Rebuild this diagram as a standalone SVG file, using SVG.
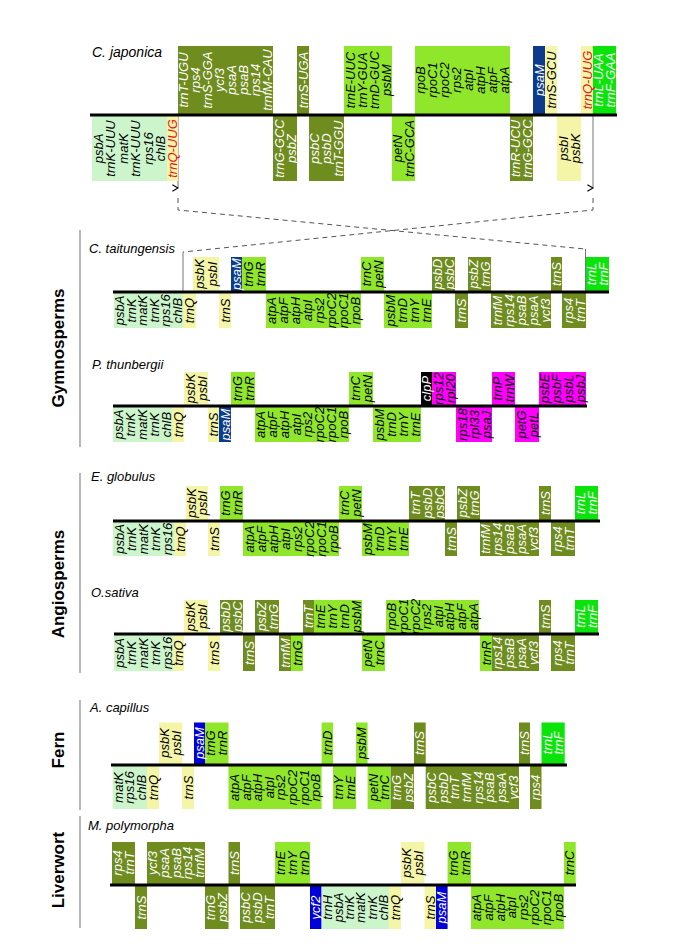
<svg xmlns="http://www.w3.org/2000/svg" width="685" height="946" viewBox="0 0 685 946">
<style>
.ol{fill:#6f8c1f}.li{fill:#8fe62b}.bg{fill:#0be40b}.mi{fill:#ccf5cc}.ye{fill:#f5f5a8}.db{fill:#0d3b8c}.bl{fill:#0000d8}.mg{fill:#ff00ff}.bk{fill:#000}
text{font-family:"Liberation Sans",Arial,sans-serif}
.g text{font-style:italic;font-size:13px;text-anchor:middle}
.w{fill:#fff}.r{fill:#e8101c}
.sp{font-style:italic;font-size:12.5px}
.grp{font-weight:bold;font-size:17px;text-anchor:middle}
.axis{stroke:#000;stroke-width:3}
.vbar{stroke:#888;stroke-width:1.2}
.dash{stroke:#555;stroke-width:1;stroke-dasharray:5,4;fill:none}
.gl{stroke:#777;stroke-width:1;fill:none}
</style>
<defs>
<marker id="ar" viewBox="0 0 10 10" refX="5" refY="1" markerWidth="8" markerHeight="8" orient="auto-start-reverse" markerUnits="userSpaceOnUse">
<path d="M1,8 L5,1 L9,8" fill="none" stroke="#000" stroke-width="1.5"/>
</marker>
</defs>
<rect width="685" height="946" fill="#fff"/>

<g id="group-labels">
<line class="vbar" x1="80" y1="230" x2="80" y2="447"/>
<line class="vbar" x1="80" y1="473" x2="80" y2="673"/>
<line class="vbar" x1="80" y1="700" x2="80" y2="810"/>
<line class="vbar" x1="80" y1="816" x2="80" y2="928"/>
<text class="grp" x="64" y="348" transform="rotate(-90 64 348)">Gymnosperms</text>
<text class="grp" x="64" y="584" transform="rotate(-90 64 584)">Angiosperms</text>
<text class="grp" x="64" y="750" transform="rotate(-90 64 750)">Fern</text>
<text class="grp" x="64" y="870" transform="rotate(-90 64 870)">Liverwort</text>
</g>

<g id="connectors">
<line class="gl" x1="178" y1="116" x2="178" y2="188" marker-end="url(#ar)"/>
<line class="gl" x1="593" y1="116" x2="593" y2="188" marker-end="url(#ar)"/>
<polyline class="dash" points="178,198 178,210 585,249"/>
<polyline class="dash" points="593,198 593,210 183,252"/>
<line class="gl" x1="183" y1="252" x2="183" y2="291"/>
<line class="gl" x1="585.5" y1="249" x2="585.5" y2="291"/>
</g>

<g id="c-japonica" class="g">
<text class="sp" x="92" y="57" style="font-size:14px;text-anchor:start">C. japonica</text>
<rect class="ol" x="178" y="46" width="95" height="69"/>
<rect class="ol" x="297" y="46" width="12" height="69"/>
<rect class="li" x="344" y="46" width="48" height="69"/>
<rect class="li" x="415" y="46" width="95" height="69"/>
<rect class="db" x="533" y="46" width="12" height="69"/>
<rect class="ye" x="545" y="46" width="12" height="69"/>
<rect class="ye" x="581" y="46" width="12" height="69"/>
<rect class="bg" x="593" y="46" width="23" height="69"/>
<rect class="mi" x="92" y="115" width="75" height="66"/>
<rect class="ye" x="167" y="115" width="11" height="66"/>
<rect class="ol" x="273" y="115" width="24" height="66"/>
<rect class="ol" x="309" y="115" width="35" height="66"/>
<rect class="li" x="392" y="115" width="23" height="66"/>
<rect class="ol" x="510" y="115" width="23" height="66"/>
<rect class="ye" x="557" y="115" width="24" height="66"/>
<line class="axis" x1="90" y1="115" x2="617" y2="115"/>
<g class="w">
<text x="188.4" y="80" transform="rotate(-90 188.4 80)">trnT-UGU</text>
<text x="200.3" y="80" transform="rotate(-90 200.3 80)">rps4</text>
<text x="212.2" y="80" transform="rotate(-90 212.2 80)">trnS-GGA</text>
<text x="224.1" y="80" transform="rotate(-90 224.1 80)">ycf3</text>
<text x="235.9" y="80" transform="rotate(-90 235.9 80)">psaA</text>
<text x="247.8" y="80" transform="rotate(-90 247.8 80)">psaB</text>
<text x="259.7" y="80" transform="rotate(-90 259.7 80)">rps14</text>
<text x="271.6" y="80" transform="rotate(-90 271.6 80)">trnfM-CAU</text>
<text x="307.5" y="80" transform="rotate(-90 307.5 80)">trnS-UGA</text>
<text x="543.5" y="80" transform="rotate(-90 543.5 80)">psaM</text>
<text x="603.25" y="80" transform="rotate(-90 603.25 80)">trnL-UAA</text>
<text x="614.75" y="80" transform="rotate(-90 614.75 80)">trnF-GAA</text>
<text x="283.5" y="148.5" transform="rotate(-90 283.5 148.5)">trnG-GCC</text>
<text x="295.5" y="148.5" transform="rotate(-90 295.5 148.5)">psbZ</text>
<text x="319.3" y="148.5" transform="rotate(-90 319.3 148.5)">psbC</text>
<text x="331" y="148.5" transform="rotate(-90 331 148.5)">psbD</text>
<text x="342.7" y="148.5" transform="rotate(-90 342.7 148.5)">trnT-GGU</text>
<text x="520.25" y="148.5" transform="rotate(-90 520.25 148.5)">trnR-UCU</text>
<text x="531.75" y="148.5" transform="rotate(-90 531.75 148.5)">trnG-GCC</text>
</g>
<text x="354.5" y="80" transform="rotate(-90 354.5 80)">trnE-UUC</text>
<text x="366.5" y="80" transform="rotate(-90 366.5 80)">trnY-GUA</text>
<text x="378.5" y="80" transform="rotate(-90 378.5 80)">trnD-GUC</text>
<text x="390.5" y="80" transform="rotate(-90 390.5 80)">psbM</text>
<text x="425.4" y="80" transform="rotate(-90 425.4 80)">rpoB</text>
<text x="437.3" y="80" transform="rotate(-90 437.3 80)">rpoC1</text>
<text x="449.2" y="80" transform="rotate(-90 449.2 80)">rpoC2</text>
<text x="461.1" y="80" transform="rotate(-90 461.1 80)">rps2</text>
<text x="472.9" y="80" transform="rotate(-90 472.9 80)">atpI</text>
<text x="484.8" y="80" transform="rotate(-90 484.8 80)">atpH</text>
<text x="496.7" y="80" transform="rotate(-90 496.7 80)">atpF</text>
<text x="508.6" y="80" transform="rotate(-90 508.6 80)">atpA</text>
<text x="555.5" y="80" transform="rotate(-90 555.5 80)">trnS-GCU</text>
<text class="r" x="591.5" y="80" transform="rotate(-90 591.5 80)">trnQ-UUG</text>
<text x="102.75" y="148.5" transform="rotate(-90 102.75 148.5)">psbA</text>
<text x="115.25" y="148.5" transform="rotate(-90 115.25 148.5)">trnK-UUU</text>
<text x="127.75" y="148.5" transform="rotate(-90 127.75 148.5)">matK</text>
<text x="140.25" y="148.5" transform="rotate(-90 140.25 148.5)">trnK-UUU</text>
<text x="152.75" y="148.5" transform="rotate(-90 152.75 148.5)">rps16</text>
<text x="165.25" y="148.5" transform="rotate(-90 165.25 148.5)">chlB</text>
<text class="r" x="177" y="148.5" transform="rotate(-90 177 148.5)">trnQ-UUG</text>
<text x="402.25" y="148.5" transform="rotate(-90 402.25 148.5)">petN</text>
<text x="413.75" y="148.5" transform="rotate(-90 413.75 148.5)">trnC-GCA</text>
<text x="567.5" y="148.5" transform="rotate(-90 567.5 148.5)">psbI</text>
<text x="579.5" y="148.5" transform="rotate(-90 579.5 148.5)">psbK</text>
</g>

<g id="c-taitungensis" class="g">
<text class="sp" x="89" y="253" style="text-anchor:start">C. taitungensis</text>
<rect class="ye" x="193" y="257" width="26" height="35"/>
<rect class="db" x="231" y="257" width="11" height="35"/>
<rect class="li" x="242" y="257" width="24" height="35"/>
<rect class="li" x="361" y="257" width="23" height="35"/>
<rect class="ol" x="432" y="257" width="23" height="35"/>
<rect class="ol" x="468" y="257" width="23" height="35"/>
<rect class="ol" x="551" y="257" width="11" height="35"/>
<rect class="bg" x="586" y="257" width="23" height="35"/>
<rect class="mi" x="114" y="292" width="69" height="36"/>
<rect class="ye" x="183" y="292" width="13" height="36"/>
<rect class="ye" x="219" y="292" width="12" height="36"/>
<rect class="li" x="266" y="292" width="95" height="36"/>
<rect class="li" x="384" y="292" width="48" height="36"/>
<rect class="ol" x="455" y="292" width="13" height="36"/>
<rect class="ol" x="491" y="292" width="60" height="36"/>
<rect class="ol" x="562" y="292" width="24" height="36"/>
<line class="axis" x1="113" y1="292" x2="609" y2="292"/>
<text x="204" y="274" transform="rotate(-90 204 274)">psbK</text>
<text x="217" y="274" transform="rotate(-90 217 274)">psbI</text>
<text class="w" x="241" y="274" transform="rotate(-90 241 274)">psaM</text>
<text x="252.5" y="274" transform="rotate(-90 252.5 274)">trnG</text>
<text x="264.5" y="274" transform="rotate(-90 264.5 274)">trnR</text>
<text x="371.25" y="274" transform="rotate(-90 371.25 274)">trnC</text>
<text x="382.75" y="274" transform="rotate(-90 382.75 274)">petN</text>
<g class="w">
<text x="442.25" y="274" transform="rotate(-90 442.25 274)">psbD</text>
<text x="453.75" y="274" transform="rotate(-90 453.75 274)">psbC</text>
<text x="478.25" y="274" transform="rotate(-90 478.25 274)">psbZ</text>
<text x="489.75" y="274" transform="rotate(-90 489.75 274)">trnG</text>
<text x="561" y="274" transform="rotate(-90 561 274)">trnS</text>
<text x="596.25" y="274" transform="rotate(-90 596.25 274)">trnL</text>
<text x="607.75" y="274" transform="rotate(-90 607.75 274)">trnF</text>
<text x="466" y="310.5" transform="rotate(-90 466 310.5)">trnS</text>
<text x="501.5" y="310.5" transform="rotate(-90 501.5 310.5)">trnfM</text>
<text x="513.5" y="310.5" transform="rotate(-90 513.5 310.5)">rps14</text>
<text x="525.5" y="310.5" transform="rotate(-90 525.5 310.5)">psaB</text>
<text x="537.5" y="310.5" transform="rotate(-90 537.5 310.5)">psaA</text>
<text x="549.5" y="310.5" transform="rotate(-90 549.5 310.5)">ycf3</text>
<text x="572.5" y="310.5" transform="rotate(-90 572.5 310.5)">rps4</text>
<text x="584.5" y="310.5" transform="rotate(-90 584.5 310.5)">trnT</text>
</g>
<text x="124.25" y="310.5" transform="rotate(-90 124.25 310.5)">psbA</text>
<text x="135.75" y="310.5" transform="rotate(-90 135.75 310.5)">trnK</text>
<text x="147.25" y="310.5" transform="rotate(-90 147.25 310.5)">matK</text>
<text x="158.75" y="310.5" transform="rotate(-90 158.75 310.5)">trnK</text>
<text x="170.25" y="310.5" transform="rotate(-90 170.25 310.5)">rps16</text>
<text x="181.75" y="310.5" transform="rotate(-90 181.75 310.5)">chlB</text>
<text x="194" y="310.5" transform="rotate(-90 194 310.5)">trnQ</text>
<text x="229.5" y="310.5" transform="rotate(-90 229.5 310.5)">trnS</text>
<text x="276.4" y="310.5" transform="rotate(-90 276.4 310.5)">atpA</text>
<text x="288.3" y="310.5" transform="rotate(-90 288.3 310.5)">atpF</text>
<text x="300.2" y="310.5" transform="rotate(-90 300.2 310.5)">atpH</text>
<text x="312.1" y="310.5" transform="rotate(-90 312.1 310.5)">atpI</text>
<text x="323.9" y="310.5" transform="rotate(-90 323.9 310.5)">rps2</text>
<text x="335.8" y="310.5" transform="rotate(-90 335.8 310.5)">rpoC2</text>
<text x="347.7" y="310.5" transform="rotate(-90 347.7 310.5)">rpoC1</text>
<text x="359.6" y="310.5" transform="rotate(-90 359.6 310.5)">rpoB</text>
<text x="394.5" y="310.5" transform="rotate(-90 394.5 310.5)">psbM</text>
<text x="406.5" y="310.5" transform="rotate(-90 406.5 310.5)">trnD</text>
<text x="418.5" y="310.5" transform="rotate(-90 418.5 310.5)">trnY</text>
<text x="430.5" y="310.5" transform="rotate(-90 430.5 310.5)">trnE</text>
</g>

<g id="p-thunbergii" class="g">
<text class="sp" x="92" y="369" style="text-anchor:start">P. thunbergii</text>
<rect class="ye" x="184" y="372" width="24" height="34"/>
<rect class="li" x="231" y="372" width="24" height="34"/>
<rect class="li" x="349" y="372" width="24" height="34"/>
<rect class="bk" x="421" y="372" width="11" height="34"/>
<rect class="mg" x="432" y="372" width="24" height="34"/>
<rect class="mg" x="492" y="372" width="23" height="34"/>
<rect class="mg" x="539" y="372" width="47" height="34"/>
<rect class="mi" x="113" y="406" width="59" height="36"/>
<rect class="ye" x="172" y="406" width="12" height="36"/>
<rect class="ye" x="208" y="406" width="11" height="36"/>
<rect class="db" x="219" y="406" width="12" height="36"/>
<rect class="li" x="255" y="406" width="94" height="36"/>
<rect class="li" x="373" y="406" width="48" height="36"/>
<rect class="mg" x="456" y="406" width="36" height="36"/>
<rect class="mg" x="515" y="406" width="24" height="36"/>
<line class="axis" x1="113" y1="406" x2="587" y2="406"/>
<text x="194.5" y="388.5" transform="rotate(-90 194.5 388.5)">psbK</text>
<text x="206.5" y="388.5" transform="rotate(-90 206.5 388.5)">psbI</text>
<text x="241.5" y="388.5" transform="rotate(-90 241.5 388.5)">trnG</text>
<text x="253.5" y="388.5" transform="rotate(-90 253.5 388.5)">trnR</text>
<text x="359.5" y="388.5" transform="rotate(-90 359.5 388.5)">trnC</text>
<text x="371.5" y="388.5" transform="rotate(-90 371.5 388.5)">petN</text>
<text class="w" x="431" y="388.5" transform="rotate(-90 431 388.5)">clpP</text>
<text x="442.5" y="388.5" transform="rotate(-90 442.5 388.5)">rps12</text>
<text x="454.5" y="388.5" transform="rotate(-90 454.5 388.5)">rpl20</text>
<text x="502.25" y="388.5" transform="rotate(-90 502.25 388.5)">trnP</text>
<text x="513.75" y="388.5" transform="rotate(-90 513.75 388.5)">trnW</text>
<text x="549.4" y="388.5" transform="rotate(-90 549.4 388.5)">psbE</text>
<text x="561.1" y="388.5" transform="rotate(-90 561.1 388.5)">psbF</text>
<text x="572.9" y="388.5" transform="rotate(-90 572.9 388.5)">psbL</text>
<text x="584.6" y="388.5" transform="rotate(-90 584.6 388.5)">psbJ</text>
<text x="123.4" y="424.5" transform="rotate(-90 123.4 424.5)">psbA</text>
<text x="135.2" y="424.5" transform="rotate(-90 135.2 424.5)">trnK</text>
<text x="147" y="424.5" transform="rotate(-90 147 424.5)">matK</text>
<text x="158.8" y="424.5" transform="rotate(-90 158.8 424.5)">trnK</text>
<text x="170.6" y="424.5" transform="rotate(-90 170.6 424.5)">chlB</text>
<text x="182.5" y="424.5" transform="rotate(-90 182.5 424.5)">trnQ</text>
<text x="218" y="424.5" transform="rotate(-90 218 424.5)">trnS</text>
<text class="w" x="229.5" y="424.5" transform="rotate(-90 229.5 424.5)">psaM</text>
<text x="265.4" y="424.5" transform="rotate(-90 265.4 424.5)">atpA</text>
<text x="277.1" y="424.5" transform="rotate(-90 277.1 424.5)">atpF</text>
<text x="288.9" y="424.5" transform="rotate(-90 288.9 424.5)">atpH</text>
<text x="300.6" y="424.5" transform="rotate(-90 300.6 424.5)">atpI</text>
<text x="312.4" y="424.5" transform="rotate(-90 312.4 424.5)">rps2</text>
<text x="324.1" y="424.5" transform="rotate(-90 324.1 424.5)">rpoC2</text>
<text x="335.9" y="424.5" transform="rotate(-90 335.9 424.5)">rpoC1</text>
<text x="347.6" y="424.5" transform="rotate(-90 347.6 424.5)">rpoB</text>
<text x="383.5" y="424.5" transform="rotate(-90 383.5 424.5)">psbM</text>
<text x="395.5" y="424.5" transform="rotate(-90 395.5 424.5)">trnD</text>
<text x="407.5" y="424.5" transform="rotate(-90 407.5 424.5)">trnY</text>
<text x="419.5" y="424.5" transform="rotate(-90 419.5 424.5)">trnE</text>
<text x="466.5" y="424.5" transform="rotate(-90 466.5 424.5)">rps18</text>
<text x="478.5" y="424.5" transform="rotate(-90 478.5 424.5)">rpl33</text>
<text x="490.5" y="424.5" transform="rotate(-90 490.5 424.5)">psaJ</text>
<text x="525.5" y="424.5" transform="rotate(-90 525.5 424.5)">petG</text>
<text x="537.5" y="424.5" transform="rotate(-90 537.5 424.5)">petL</text>
</g>

<g id="e-globulus" class="g">
<text class="sp" x="91" y="481" style="text-anchor:start">E. globulus</text>
<rect class="ye" x="186" y="486" width="22" height="35"/>
<rect class="li" x="220" y="486" width="23" height="35"/>
<rect class="li" x="339" y="486" width="23" height="35"/>
<rect class="ol" x="409" y="486" width="36" height="35"/>
<rect class="ol" x="457" y="486" width="23" height="35"/>
<rect class="ol" x="539" y="486" width="12" height="35"/>
<rect class="bg" x="575" y="486" width="23" height="35"/>
<rect class="mi" x="113" y="521" width="61" height="35"/>
<rect class="ye" x="174" y="521" width="12" height="35"/>
<rect class="ye" x="208" y="521" width="12" height="35"/>
<rect class="li" x="243" y="521" width="96" height="35"/>
<rect class="li" x="362" y="521" width="47" height="35"/>
<rect class="ol" x="445" y="521" width="12" height="35"/>
<rect class="ol" x="480" y="521" width="59" height="35"/>
<rect class="ol" x="551" y="521" width="24" height="35"/>
<line class="axis" x1="113" y1="521" x2="600" y2="521"/>
<text x="196" y="503" transform="rotate(-90 196 503)">psbK</text>
<text x="207" y="503" transform="rotate(-90 207 503)">psbI</text>
<text x="230.25" y="503" transform="rotate(-90 230.25 503)">trnG</text>
<text x="241.75" y="503" transform="rotate(-90 241.75 503)">trnR</text>
<text x="349.25" y="503" transform="rotate(-90 349.25 503)">trnC</text>
<text x="360.75" y="503" transform="rotate(-90 360.75 503)">petN</text>
<g class="w">
<text x="419.5" y="503" transform="rotate(-90 419.5 503)">trnT</text>
<text x="431.5" y="503" transform="rotate(-90 431.5 503)">psbD</text>
<text x="443.5" y="503" transform="rotate(-90 443.5 503)">psbC</text>
<text x="467.25" y="503" transform="rotate(-90 467.25 503)">psbZ</text>
<text x="478.75" y="503" transform="rotate(-90 478.75 503)">trnG</text>
<text x="549.5" y="503" transform="rotate(-90 549.5 503)">trnS</text>
<text x="585.25" y="503" transform="rotate(-90 585.25 503)">trnL</text>
<text x="596.75" y="503" transform="rotate(-90 596.75 503)">trnF</text>
<text x="455.5" y="539" transform="rotate(-90 455.5 539)">trnS</text>
<text x="490.4" y="539" transform="rotate(-90 490.4 539)">trnfM</text>
<text x="502.2" y="539" transform="rotate(-90 502.2 539)">rps14</text>
<text x="514" y="539" transform="rotate(-90 514 539)">psaB</text>
<text x="525.8" y="539" transform="rotate(-90 525.8 539)">psaA</text>
<text x="537.6" y="539" transform="rotate(-90 537.6 539)">ycf3</text>
<text x="561.5" y="539" transform="rotate(-90 561.5 539)">rps4</text>
<text x="573.5" y="539" transform="rotate(-90 573.5 539)">trnT</text>
</g>
<text x="123.6" y="539" transform="rotate(-90 123.6 539)">psbA</text>
<text x="135.8" y="539" transform="rotate(-90 135.8 539)">trnK</text>
<text x="148" y="539" transform="rotate(-90 148 539)">matK</text>
<text x="160.2" y="539" transform="rotate(-90 160.2 539)">trnK</text>
<text x="172.4" y="539" transform="rotate(-90 172.4 539)">rps16</text>
<text x="184.5" y="539" transform="rotate(-90 184.5 539)">trnQ</text>
<text x="218.5" y="539" transform="rotate(-90 218.5 539)">trnS</text>
<text x="253.5" y="539" transform="rotate(-90 253.5 539)">atpA</text>
<text x="265.5" y="539" transform="rotate(-90 265.5 539)">atpF</text>
<text x="277.5" y="539" transform="rotate(-90 277.5 539)">atpH</text>
<text x="289.5" y="539" transform="rotate(-90 289.5 539)">atpI</text>
<text x="301.5" y="539" transform="rotate(-90 301.5 539)">rps2</text>
<text x="313.5" y="539" transform="rotate(-90 313.5 539)">rpoC2</text>
<text x="325.5" y="539" transform="rotate(-90 325.5 539)">rpoC1</text>
<text x="337.5" y="539" transform="rotate(-90 337.5 539)">rpoB</text>
<text x="372.4" y="539" transform="rotate(-90 372.4 539)">psbM</text>
<text x="384.1" y="539" transform="rotate(-90 384.1 539)">trnD</text>
<text x="395.9" y="539" transform="rotate(-90 395.9 539)">trnY</text>
<text x="407.6" y="539" transform="rotate(-90 407.6 539)">trnE</text>
</g>

<g id="o-sativa" class="g">
<text class="sp" x="91" y="597" style="text-anchor:start">O.sativa</text>
<rect class="ye" x="184" y="600" width="24" height="34"/>
<rect class="ol" x="220" y="600" width="23" height="34"/>
<rect class="ol" x="255" y="600" width="24" height="34"/>
<rect class="ol" x="303" y="600" width="11" height="34"/>
<rect class="li" x="314" y="600" width="48" height="34"/>
<rect class="li" x="386" y="600" width="93" height="34"/>
<rect class="ol" x="539" y="600" width="12" height="34"/>
<rect class="bg" x="575" y="600" width="23" height="34"/>
<rect class="mi" x="114" y="634" width="59" height="37"/>
<rect class="ye" x="173" y="634" width="11" height="37"/>
<rect class="ye" x="208" y="634" width="12" height="37"/>
<rect class="ol" x="243" y="634" width="12" height="37"/>
<rect class="ol" x="279" y="634" width="12" height="37"/>
<rect class="li" x="291" y="634" width="12" height="37"/>
<rect class="li" x="362" y="634" width="23" height="37"/>
<rect class="li" x="480" y="634" width="12" height="37"/>
<rect class="ol" x="492" y="634" width="47" height="37"/>
<rect class="ol" x="551" y="634" width="24" height="37"/>
<line class="axis" x1="114" y1="634" x2="599" y2="634"/>
<text x="194.5" y="616.5" transform="rotate(-90 194.5 616.5)">psbK</text>
<text x="206.5" y="616.5" transform="rotate(-90 206.5 616.5)">psbI</text>
<g class="w">
<text x="230.25" y="616.5" transform="rotate(-90 230.25 616.5)">psbD</text>
<text x="241.75" y="616.5" transform="rotate(-90 241.75 616.5)">psbC</text>
<text x="265.5" y="616.5" transform="rotate(-90 265.5 616.5)">psbZ</text>
<text x="277.5" y="616.5" transform="rotate(-90 277.5 616.5)">trnG</text>
<text x="313" y="616.5" transform="rotate(-90 313 616.5)">trnT</text>
<text x="549.5" y="616.5" transform="rotate(-90 549.5 616.5)">trnS</text>
<text x="585.25" y="616.5" transform="rotate(-90 585.25 616.5)">trnL</text>
<text x="596.75" y="616.5" transform="rotate(-90 596.75 616.5)">trnF</text>
<text x="253.5" y="653" transform="rotate(-90 253.5 653)">trnS</text>
<text x="289.5" y="653" transform="rotate(-90 289.5 653)">trnfM</text>
<text x="502.4" y="653" transform="rotate(-90 502.4 653)">rps14</text>
<text x="514.1" y="653" transform="rotate(-90 514.1 653)">psaB</text>
<text x="525.9" y="653" transform="rotate(-90 525.9 653)">psaA</text>
<text x="537.6" y="653" transform="rotate(-90 537.6 653)">ycf3</text>
<text x="561.5" y="653" transform="rotate(-90 561.5 653)">rps4</text>
<text x="573.5" y="653" transform="rotate(-90 573.5 653)">trnT</text>
</g>
<text x="324.5" y="616.5" transform="rotate(-90 324.5 616.5)">trnE</text>
<text x="336.5" y="616.5" transform="rotate(-90 336.5 616.5)">trnY</text>
<text x="348.5" y="616.5" transform="rotate(-90 348.5 616.5)">trnD</text>
<text x="360.5" y="616.5" transform="rotate(-90 360.5 616.5)">psbM</text>
<text x="396.3" y="616.5" transform="rotate(-90 396.3 616.5)">rpoB</text>
<text x="407.9" y="616.5" transform="rotate(-90 407.9 616.5)">rpoC1</text>
<text x="419.6" y="616.5" transform="rotate(-90 419.6 616.5)">rpoC2</text>
<text x="431.2" y="616.5" transform="rotate(-90 431.2 616.5)">rps2</text>
<text x="442.8" y="616.5" transform="rotate(-90 442.8 616.5)">atpI</text>
<text x="454.4" y="616.5" transform="rotate(-90 454.4 616.5)">atpH</text>
<text x="466.1" y="616.5" transform="rotate(-90 466.1 616.5)">atpF</text>
<text x="477.7" y="616.5" transform="rotate(-90 477.7 616.5)">atpA</text>
<text x="124.4" y="653" transform="rotate(-90 124.4 653)">psbA</text>
<text x="136.2" y="653" transform="rotate(-90 136.2 653)">trnK</text>
<text x="148" y="653" transform="rotate(-90 148 653)">matK</text>
<text x="159.8" y="653" transform="rotate(-90 159.8 653)">trnK</text>
<text x="171.6" y="653" transform="rotate(-90 171.6 653)">rps16</text>
<text x="183" y="653" transform="rotate(-90 183 653)">trnQ</text>
<text x="218.5" y="653" transform="rotate(-90 218.5 653)">trnS</text>
<text x="301.5" y="653" transform="rotate(-90 301.5 653)">trnG</text>
<text x="372.25" y="653" transform="rotate(-90 372.25 653)">petN</text>
<text x="383.75" y="653" transform="rotate(-90 383.75 653)">trnC</text>
<text x="490.5" y="653" transform="rotate(-90 490.5 653)">trnR</text>
</g>

<g id="a-capillus" class="g">
<text class="sp" x="90" y="712" style="text-anchor:start">A. capillus</text>
<rect class="ye" x="159" y="722.5" width="23" height="42.5"/>
<rect class="bl" x="194" y="722.5" width="11" height="42.5"/>
<rect class="li" x="205" y="722.5" width="23.5" height="42.5"/>
<rect class="li" x="321.6" y="722.5" width="11.4" height="42.5"/>
<rect class="li" x="356" y="722.5" width="11.6" height="42.5"/>
<rect class="ol" x="414" y="722.5" width="11.7" height="42.5"/>
<rect class="ol" x="519" y="722.5" width="11" height="42.5"/>
<rect class="bg" x="541.5" y="722.5" width="23.2" height="42.5"/>
<rect class="mi" x="112.7" y="765" width="34.3" height="44"/>
<rect class="ye" x="147" y="765" width="12" height="44"/>
<rect class="ye" x="182" y="765" width="12" height="44"/>
<rect class="li" x="228.5" y="765" width="93.1" height="44"/>
<rect class="li" x="333" y="765" width="23" height="44"/>
<rect class="li" x="367.6" y="765" width="23.1" height="44"/>
<rect class="ol" x="390.7" y="765" width="23.3" height="44"/>
<rect class="ol" x="425.7" y="765" width="93.3" height="44"/>
<rect class="ol" x="530" y="765" width="11.5" height="44"/>
<line class="axis" x1="111" y1="765" x2="567" y2="765"/>
<text x="169.25" y="743" transform="rotate(-90 169.25 743)">psbK</text>
<text x="180.75" y="743" transform="rotate(-90 180.75 743)">psbI</text>
<text class="w" x="204" y="743" transform="rotate(-90 204 743)">psaM</text>
<text x="215.4" y="743" transform="rotate(-90 215.4 743)">trnG</text>
<text x="227.1" y="743" transform="rotate(-90 227.1 743)">trnR</text>
<text x="331.8" y="743" transform="rotate(-90 331.8 743)">trnD</text>
<text x="366.3" y="743" transform="rotate(-90 366.3 743)">psbM</text>
<g class="w">
<text x="424.35" y="743" transform="rotate(-90 424.35 743)">trnS</text>
<text x="529" y="743" transform="rotate(-90 529 743)">trnS</text>
<text x="551.8" y="743" transform="rotate(-90 551.8 743)">trnL</text>
<text x="563.4" y="743" transform="rotate(-90 563.4 743)">trnF</text>
<text x="401" y="787.5" transform="rotate(-90 401 787.5)">trnG</text>
<text x="412.7" y="787.5" transform="rotate(-90 412.7 787.5)">psbZ</text>
<text x="436" y="787.5" transform="rotate(-90 436 787.5)">psbC</text>
<text x="447.7" y="787.5" transform="rotate(-90 447.7 787.5)">psbD</text>
<text x="459.4" y="787.5" transform="rotate(-90 459.4 787.5)">trnT</text>
<text x="471" y="787.5" transform="rotate(-90 471 787.5)">trnfM</text>
<text x="482.7" y="787.5" transform="rotate(-90 482.7 787.5)">rps14</text>
<text x="494.3" y="787.5" transform="rotate(-90 494.3 787.5)">psaB</text>
<text x="506" y="787.5" transform="rotate(-90 506 787.5)">psaA</text>
<text x="517.7" y="787.5" transform="rotate(-90 517.7 787.5)">ycf3</text>
<text x="540.25" y="787.5" transform="rotate(-90 540.25 787.5)">rps4</text>
</g>
<text x="122.9" y="787.5" transform="rotate(-90 122.9 787.5)">matK</text>
<text x="134.4" y="787.5" transform="rotate(-90 134.4 787.5)">rps16</text>
<text x="145.8" y="787.5" transform="rotate(-90 145.8 787.5)">chlB</text>
<text x="157.5" y="787.5" transform="rotate(-90 157.5 787.5)">trnQ</text>
<text x="192.5" y="787.5" transform="rotate(-90 192.5 787.5)">trnS</text>
<text x="238.8" y="787.5" transform="rotate(-90 238.8 787.5)">atpA</text>
<text x="250.5" y="787.5" transform="rotate(-90 250.5 787.5)">atpF</text>
<text x="262.1" y="787.5" transform="rotate(-90 262.1 787.5)">atpH</text>
<text x="273.7" y="787.5" transform="rotate(-90 273.7 787.5)">atpI</text>
<text x="285.4" y="787.5" transform="rotate(-90 285.4 787.5)">rps2</text>
<text x="297" y="787.5" transform="rotate(-90 297 787.5)">rpoC2</text>
<text x="308.6" y="787.5" transform="rotate(-90 308.6 787.5)">rpoC1</text>
<text x="320.3" y="787.5" transform="rotate(-90 320.3 787.5)">rpoB</text>
<text x="343.25" y="787.5" transform="rotate(-90 343.25 787.5)">trnY</text>
<text x="354.75" y="787.5" transform="rotate(-90 354.75 787.5)">trnE</text>
<text x="377.9" y="787.5" transform="rotate(-90 377.9 787.5)">petN</text>
<text x="389.4" y="787.5" transform="rotate(-90 389.4 787.5)">trnC</text>
</g>

<g id="m-polymorpha" class="g">
<text class="sp" x="88" y="830" style="text-anchor:start">M. polymorpha</text>
<rect class="ol" x="112" y="842" width="23" height="43"/>
<rect class="ol" x="147" y="842" width="58" height="43"/>
<rect class="ol" x="228.5" y="842" width="11.5" height="43"/>
<rect class="li" x="275" y="842" width="35" height="43"/>
<rect class="ye" x="401" y="842" width="23.5" height="43"/>
<rect class="li" x="447.6" y="842" width="23.4" height="43"/>
<rect class="li" x="564" y="842" width="11.7" height="43"/>
<rect class="ol" x="135" y="885" width="12" height="44"/>
<rect class="ol" x="205" y="885" width="23.5" height="44"/>
<rect class="ol" x="240" y="885" width="35" height="44"/>
<rect class="bl" x="310" y="885" width="11.6" height="44"/>
<rect class="mi" x="321.6" y="885" width="67.4" height="44"/>
<rect class="ye" x="389" y="885" width="12" height="44"/>
<rect class="ye" x="424.5" y="885" width="11.5" height="44"/>
<rect class="bl" x="436" y="885" width="11.6" height="44"/>
<rect class="li" x="471" y="885" width="93" height="44"/>
<line class="axis" x1="110" y1="885" x2="576" y2="885"/>
<g class="w">
<text x="122.25" y="863" transform="rotate(-90 122.25 863)">rps4</text>
<text x="133.75" y="863" transform="rotate(-90 133.75 863)">trnT</text>
<text x="157.3" y="863" transform="rotate(-90 157.3 863)">ycf3</text>
<text x="168.9" y="863" transform="rotate(-90 168.9 863)">psaA</text>
<text x="180.5" y="863" transform="rotate(-90 180.5 863)">psaB</text>
<text x="192.1" y="863" transform="rotate(-90 192.1 863)">rps14</text>
<text x="203.7" y="863" transform="rotate(-90 203.7 863)">trnfM</text>
<text x="238.75" y="863" transform="rotate(-90 238.75 863)">trnS</text>
<text x="145.5" y="907.5" transform="rotate(-90 145.5 907.5)">trnS</text>
<text x="215.4" y="907.5" transform="rotate(-90 215.4 907.5)">trnG</text>
<text x="227.1" y="907.5" transform="rotate(-90 227.1 907.5)">psbZ</text>
<text x="250.3" y="907.5" transform="rotate(-90 250.3 907.5)">psbC</text>
<text x="262" y="907.5" transform="rotate(-90 262 907.5)">psbD</text>
<text x="273.7" y="907.5" transform="rotate(-90 273.7 907.5)">trnT</text>
<text x="320.3" y="907.5" transform="rotate(-90 320.3 907.5)">ycf2</text>
<text x="446.3" y="907.5" transform="rotate(-90 446.3 907.5)">psaM</text>
</g>
<text x="285.3" y="863" transform="rotate(-90 285.3 863)">trnE</text>
<text x="297" y="863" transform="rotate(-90 297 863)">trnY</text>
<text x="308.7" y="863" transform="rotate(-90 308.7 863)">trnD</text>
<text x="411.4" y="863" transform="rotate(-90 411.4 863)">psbK</text>
<text x="423.1" y="863" transform="rotate(-90 423.1 863)">psbI</text>
<text x="458" y="863" transform="rotate(-90 458 863)">trnG</text>
<text x="469.7" y="863" transform="rotate(-90 469.7 863)">trnR</text>
<text x="574.35" y="863" transform="rotate(-90 574.35 863)">trnC</text>
<text x="331.7" y="907.5" transform="rotate(-90 331.7 907.5)">trnH</text>
<text x="343" y="907.5" transform="rotate(-90 343 907.5)">psbA</text>
<text x="354.2" y="907.5" transform="rotate(-90 354.2 907.5)">trnK</text>
<text x="365.4" y="907.5" transform="rotate(-90 365.4 907.5)">matK</text>
<text x="376.6" y="907.5" transform="rotate(-90 376.6 907.5)">trnK</text>
<text x="387.9" y="907.5" transform="rotate(-90 387.9 907.5)">chlB</text>
<text x="399.5" y="907.5" transform="rotate(-90 399.5 907.5)">trnQ</text>
<text x="434.75" y="907.5" transform="rotate(-90 434.75 907.5)">trnS</text>
<text x="481.3" y="907.5" transform="rotate(-90 481.3 907.5)">atpA</text>
<text x="492.9" y="907.5" transform="rotate(-90 492.9 907.5)">atpF</text>
<text x="504.6" y="907.5" transform="rotate(-90 504.6 907.5)">atpH</text>
<text x="516.2" y="907.5" transform="rotate(-90 516.2 907.5)">atpI</text>
<text x="527.8" y="907.5" transform="rotate(-90 527.8 907.5)">rps2</text>
<text x="539.4" y="907.5" transform="rotate(-90 539.4 907.5)">rpoC2</text>
<text x="551.1" y="907.5" transform="rotate(-90 551.1 907.5)">rpoC1</text>
<text x="562.7" y="907.5" transform="rotate(-90 562.7 907.5)">rpoB</text>
</g>
</svg>
